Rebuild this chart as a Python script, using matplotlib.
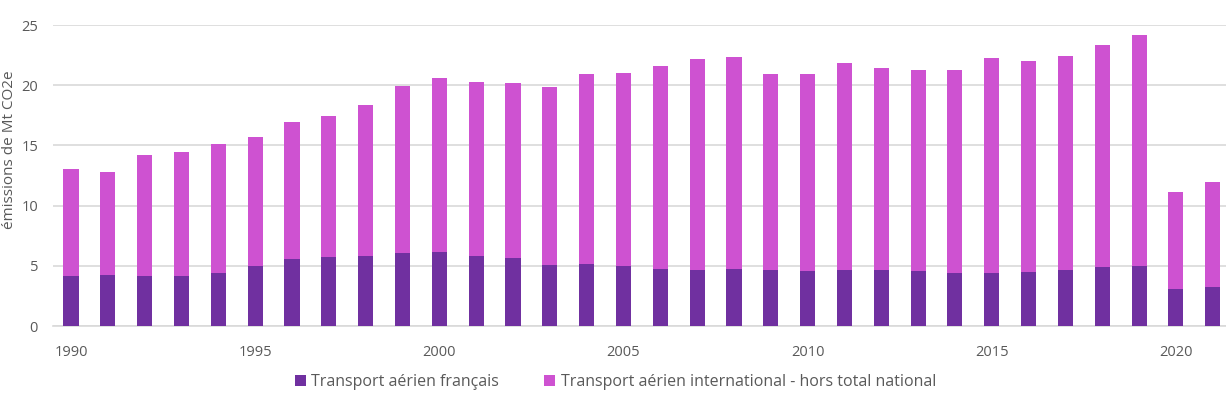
import numpy as np
import matplotlib
matplotlib.use("Agg")
import matplotlib.pyplot as plt

# émissions du transport aérien, Mt CO2e
years = list(range(1990, 2022))
francais = [4.15, 4.23, 4.15, 4.15, 4.37, 4.98, 5.56, 5.70, 5.84, 6.03,
            6.17, 5.84, 5.65, 5.07, 5.15, 4.98, 4.73, 4.65, 4.73, 4.65,
            4.57, 4.65, 4.65, 4.57, 4.37, 4.37, 4.51, 4.65, 4.93, 5.01,
            3.04, 3.27]
total = [13.04, 12.76, 14.18, 14.45, 15.09, 15.73, 16.97, 17.47, 18.38, 19.93,
         20.57, 20.29, 20.21, 19.85, 20.90, 20.99, 21.59, 22.15, 22.37, 20.90,
         20.90, 21.82, 21.40, 21.23, 21.23, 22.23, 22.01, 22.45, 23.31, 24.20,
         11.16, 11.99]
international = [t - f for t, f in zip(total, francais)]
labels = ["Transport aérien français",
          "Transport aérien international - hors total national"]

plt.rcParams['font.family'] = ['Open Sans', 'DejaVu Sans']
grey = '#595959'

fig = plt.figure(figsize=(12.26, 3.97), dpi=100)
ax = fig.add_axes([0.0435, 0.1788, 0.9565, 0.758])

ax.bar(years, francais, width=0.41, color='#7030A0', label=labels[0], zorder=3)
ax.bar(years, international, width=0.41, bottom=francais, color='#CE52D1',
       label=labels[1], zorder=3)

ax.set_ylim(0, 25)
ax.set_xlim(1989.52, 2021.36)
ax.set_yticks([0, 5, 10, 15, 20, 25])
ax.set_xticks([1990, 1995, 2000, 2005, 2010, 2015, 2020])
ax.grid(axis='y', color='#D9D9D9', linewidth=1.2, zorder=0)
for s in ['top', 'right', 'left']:
    ax.spines[s].set_visible(False)
ax.spines['bottom'].set_color('#D9D9D9')
ax.spines['bottom'].set_linewidth(1.2)
ax.tick_params(axis='both', length=0, labelsize=10.5, labelcolor=grey)
ax.tick_params(axis='y', pad=11)
ax.tick_params(axis='x', pad=14)

fig.text(0.008, 0.622, "émissions de Mt CO2e", rotation=90, ha='center',
         va='center', fontsize=11, color=grey)

leg = fig.legend(loc='center', bbox_to_anchor=(0.502, 0.038), ncol=2,
                 frameon=False, fontsize=11.5, handlelength=0.7,
                 handleheight=0.7, handletextpad=0.35, columnspacing=2.8)
for t in leg.get_texts():
    t.set_color(grey)

fig.savefig("out.png", dpi=100)
